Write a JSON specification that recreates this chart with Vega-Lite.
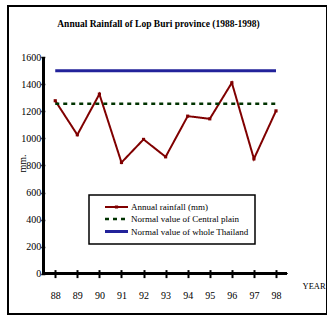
{
  "$schema": "https://vega.github.io/schema/vega-lite/v6.json",
  "width": 319,
  "height": 308,
  "autosize": {"type": "none"},
  "padding": {"left": 8, "top": 6, "right": 0, "bottom": 4},
  "background": "white",
  "title": {
    "text": "Annual Rainfall of Lop Buri province (1988-1998)",
    "font": "Liberation Serif",
    "fontSize": 9.5,
    "fontWeight": "bold",
    "color": "black",
    "anchor": "middle",
    "dx": -9,
    "offset": -30,
    "baseline": "alphabetic"
  },
  "data": {
    "values": [
      {"year": 88, "value": 1279, "series": "Annual rainfall (mm)"},
      {"year": 89, "value": 1027, "series": "Annual rainfall (mm)"},
      {"year": 90, "value": 1328, "series": "Annual rainfall (mm)"},
      {"year": 91, "value": 822, "series": "Annual rainfall (mm)"},
      {"year": 92, "value": 993, "series": "Annual rainfall (mm)"},
      {"year": 93, "value": 864, "series": "Annual rainfall (mm)"},
      {"year": 94, "value": 1165, "series": "Annual rainfall (mm)"},
      {"year": 95, "value": 1145, "series": "Annual rainfall (mm)"},
      {"year": 96, "value": 1412, "series": "Annual rainfall (mm)"},
      {"year": 97, "value": 849, "series": "Annual rainfall (mm)"},
      {"year": 98, "value": 1204, "series": "Annual rainfall (mm)"},
      {"year": 88, "value": 1256, "series": "Normal value of Central plain"},
      {"year": 89, "value": 1256, "series": "Normal value of Central plain"},
      {"year": 90, "value": 1256, "series": "Normal value of Central plain"},
      {"year": 91, "value": 1256, "series": "Normal value of Central plain"},
      {"year": 92, "value": 1256, "series": "Normal value of Central plain"},
      {"year": 93, "value": 1256, "series": "Normal value of Central plain"},
      {"year": 94, "value": 1256, "series": "Normal value of Central plain"},
      {"year": 95, "value": 1256, "series": "Normal value of Central plain"},
      {"year": 96, "value": 1256, "series": "Normal value of Central plain"},
      {"year": 97, "value": 1256, "series": "Normal value of Central plain"},
      {"year": 98, "value": 1256, "series": "Normal value of Central plain"},
      {"year": 88, "value": 1500, "series": "Normal value of whole Thailand"},
      {"year": 89, "value": 1500, "series": "Normal value of whole Thailand"},
      {"year": 90, "value": 1500, "series": "Normal value of whole Thailand"},
      {"year": 91, "value": 1500, "series": "Normal value of whole Thailand"},
      {"year": 92, "value": 1500, "series": "Normal value of whole Thailand"},
      {"year": 93, "value": 1500, "series": "Normal value of whole Thailand"},
      {"year": 94, "value": 1500, "series": "Normal value of whole Thailand"},
      {"year": 95, "value": 1500, "series": "Normal value of whole Thailand"},
      {"year": 96, "value": 1500, "series": "Normal value of whole Thailand"},
      {"year": 97, "value": 1500, "series": "Normal value of whole Thailand"},
      {"year": 98, "value": 1500, "series": "Normal value of whole Thailand"}
    ]
  },
  "encoding": {
    "x": {
      "field": "year",
      "type": "quantitative",
      "scale": {"domain": [85.86, 100.31], "nice": false, "zero": false},
      "axis": {
        "values": [88, 88.5, 89, 89.5, 90, 90.5, 91, 91.5, 92, 92.5, 93, 93.5, 94, 94.5, 95, 95.5, 96, 96.5, 97, 97.5, 98],
        "labelExpr": "datum.value % 1 == 0 ? datum.label : ''",
        "format": "d",
        "domain": false,
        "grid": false,
        "ticks": true,
        "offset": -44.4,
        "tickSize": 8,
        "tickWidth": 2,
        "tickColor": "black",
        "tickOpacity": 1,
        "labelPadding": 13,
        "labelFont": "Liberation Serif",
        "labelFontSize": 10,
        "labelColor": "black",
        "labelOverlap": false,
        "labelFlush": false,
        "title": "YEAR",
        "titleFont": "Liberation Serif",
        "titleFontSize": 8.5,
        "titleFontWeight": "normal",
        "titleColor": "black",
        "titleX": 294,
        "titleY": 16,
        "titleAlign": "left",
        "titleBaseline": "middle"
      }
    },
    "y": {
      "field": "value",
      "type": "quantitative",
      "scale": {"domain": [-299, 1980], "nice": false, "zero": false},
      "axis": {
        "values": [0, 200, 400, 600, 800, 1000, 1200, 1400, 1600],
        "format": "d",
        "domain": false,
        "grid": false,
        "ticks": true,
        "offset": -36.8,
        "tickSize": 4,
        "tickWidth": 1.5,
        "tickColor": "black",
        "tickOpacity": 1,
        "labelPadding": 0,
        "labelFont": "Liberation Serif",
        "labelFontSize": 10,
        "labelColor": "black",
        "labelOverlap": false,
        "labelFlush": false,
        "title": "mm.",
        "titleFont": "Liberation Serif",
        "titleFontSize": 10,
        "titleFontWeight": "normal",
        "titleColor": "black",
        "titleAngle": -90,
        "titleX": -22,
        "titleY": 157,
        "titleAlign": "center",
        "titleBaseline": "middle"
      }
    }
  },
  "layer": [
    {
      "mark": {"type": "rule", "color": "black", "strokeWidth": 2},
      "encoding": {
        "x": {"datum": 87.47},
        "y": {"datum": 0},
        "y2": {"datum": 1600}
      }
    },
    {
      "mark": {"type": "rule", "color": "black", "strokeWidth": 2},
      "encoding": {
        "y": {"datum": 0},
        "x": {"datum": 87.47},
        "x2": {"datum": 98.5}
      }
    },
    {
      "mark": {"type": "line"},
      "encoding": {
        "color": {
          "field": "series",
          "type": "nominal",
          "scale": {
            "domain": ["Annual rainfall (mm)", "Normal value of Central plain", "Normal value of whole Thailand"],
            "range": ["#800000", "#003300", "#22229a"]
          },
          "legend": {
            "orient": "none",
            "legendX": 81,
            "legendY": 189,
            "title": null,
            "strokeColor": "black",
            "fillColor": "white",
            "padding": 6,
            "symbolType": "M-2.3,0H2.3",
            "symbolSize": 100,
            "symbolOffset": 15,
            "rowPadding": 0.5,
            "labelOffset": 8,
            "labelFont": "Liberation Serif",
            "labelFontSize": 9,
            "labelColor": "black",
            "encode": {
              "symbols": {
                "update": {
                  "shape": {"signal": "datum.value == 'Annual rainfall (mm)' ? 'M-2.3,0H2.3M-0.12,-0.12H0.12V0.12H-0.12Z' : 'M-2.3,0H2.3'"}
                }
              }
            }
          }
        },
        "strokeDash": {
          "field": "series",
          "type": "nominal",
          "scale": {
            "domain": ["Annual rainfall (mm)", "Normal value of Central plain", "Normal value of whole Thailand"],
            "range": [[1, 0], [4, 4], [1, 0]]
          },
          "legend": null
        },
        "strokeWidth": {
          "field": "series",
          "type": "nominal",
          "scale": {
            "domain": ["Annual rainfall (mm)", "Normal value of Central plain", "Normal value of whole Thailand"],
            "range": [2, 3, 1.5]
          },
          "legend": null
        }
      }
    },
    {
      "transform": [{"filter": "datum.series == 'Annual rainfall (mm)'"}],
      "mark": {"type": "square", "color": "#800000", "size": 10, "opacity": 1},
      "encoding": {}
    }
  ],
  "config": {
    "view": {"stroke": "black", "strokeWidth": 2},
    "axis": {"grid": false, "ticks": true},
    "legend": {"strokeWidth": 1.5}
  }
}
